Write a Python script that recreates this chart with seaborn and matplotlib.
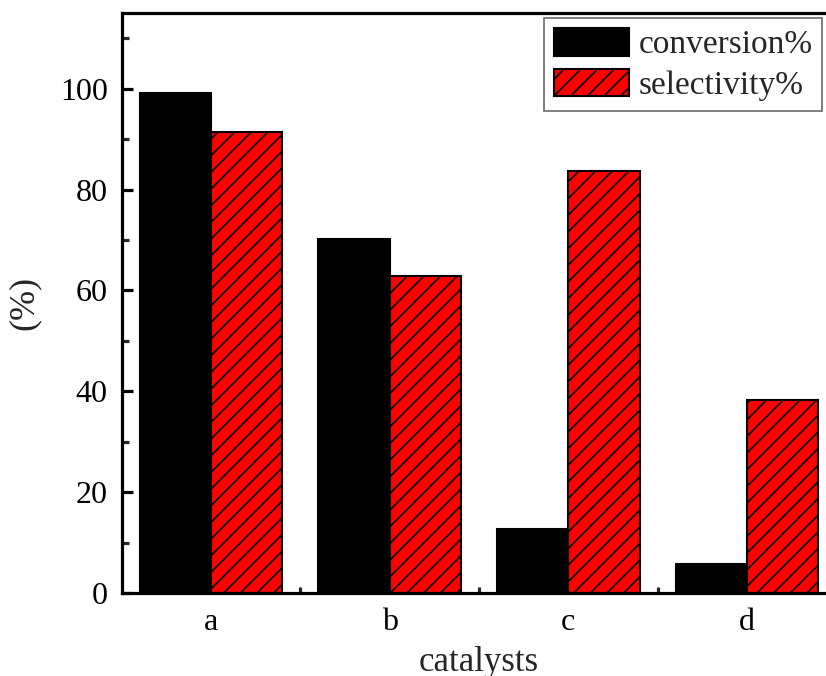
import matplotlib
matplotlib.use("Agg")
import matplotlib.pyplot as plt
from matplotlib.ticker import MultipleLocator, FixedLocator
import seaborn as sns
import pandas as pd

catalysts = ["a", "b", "c", "d"]
conversion = [99.2, 70.2, 12.7, 5.7]
selectivity = [91.4, 62.8, 83.7, 38.3]
series_names = ["conversion%", "selectivity%"]

df = pd.DataFrame({
    "catalysts": catalysts * 2,
    "value": conversion + selectivity,
    "series": [series_names[0]] * len(catalysts) + [series_names[1]] * len(catalysts),
})

sns.set_theme(style="ticks")
plt.rcParams["font.family"] = ["Liberation Serif", "DejaVu Serif"]
plt.rcParams["hatch.linewidth"] = 1.2

fig = plt.figure(figsize=(8.26, 6.76), dpi=100)
ax = fig.add_axes([121.7 / 826, 83 / 676, 714.6 / 826, 580 / 676])

sns.barplot(
    data=df, x="catalysts", y="value", hue="series",
    palette={series_names[0]: "black", series_names[1]: "red"},
    width=0.8, gap=0, edgecolor="black", linewidth=1.5,
    saturation=1, legend=False, ax=ax,
)

# hatch the selectivity bars
for patch in ax.containers[1]:
    patch.set_hatch("//")

ax.set_xlim(-0.5, 3.5)
ax.set_ylim(0, 115)
ax.yaxis.set_major_locator(MultipleLocator(20))
ax.yaxis.set_minor_locator(MultipleLocator(10))
ax.xaxis.set_minor_locator(FixedLocator([0.5, 1.5, 2.5]))
ax.set_yticks([0, 20, 40, 60, 80, 100])

for side in ["left", "bottom", "top", "right"]:
    ax.spines[side].set_linewidth(2.3)
    ax.spines[side].set_color("black")

ax.tick_params(axis="both", which="major", direction="in", length=8, width=2.3,
               labelsize=23, colors="black", pad=10)
ax.tick_params(axis="y", which="minor", direction="in", length=5, width=2.3)
ax.tick_params(axis="x", which="minor", direction="in", length=4, width=2.3)
ax.tick_params(axis="x", which="major", length=0, pad=11)

ax.set_xlabel("catalysts", fontsize=25, labelpad=6)
ax.set_ylabel("(%)", fontsize=26, labelpad=14)

leg = ax.legend(
    handles=ax.containers, labels=series_names,
    loc="upper left", bbox_to_anchor=(544 / 826, 1 - 18 / 676),
    bbox_transform=fig.transFigure, fontsize=24, frameon=True,
    fancybox=False, borderaxespad=0, borderpad=0.3,
    handlelength=2.25, handleheight=0.9, handletextpad=0.28,
    labelspacing=0.25,
)
leg.get_frame().set_edgecolor("#444444")
leg.get_frame().set_linewidth(1.2)

fig.savefig("out.png", dpi=100)
